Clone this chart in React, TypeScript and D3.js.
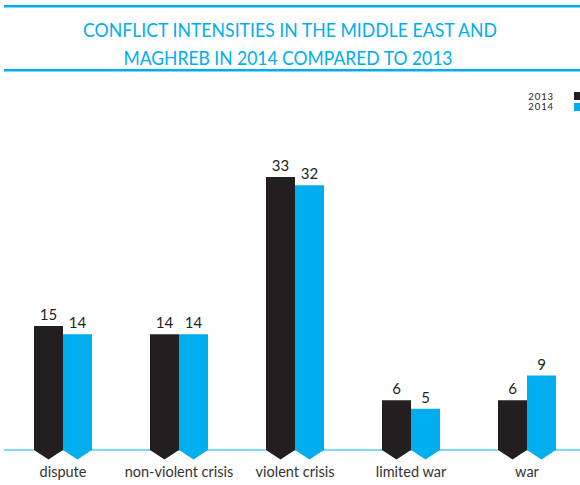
import React from "react";
import * as d3 from "d3";

const categories = ["dispute", "non-violent crisis", "violent crisis", "limited war", "war"];
const values2013 = [15, 14, 33, 6, 6];
const values2014 = [14, 14, 32, 5, 9];
const seriesNames = ["2013", "2014"];
const seriesColors = ["#231f20", "#00aeef"];
const titleLines = ["CONFLICT INTENSITIES IN THE MIDDLE EAST AND", "MAGHREB IN 2014 COMPARED TO 2013"];

const W = 580;
const H = 485;
const BASE = 450;
const FONT = "Lato, 'Open Sans', sans-serif";

export default function App() {
  const x0 = d3.scaleBand<string>().domain(categories).range([5, 585]).paddingInner(0.5).paddingOuter(0.25);
  const x1 = d3.scaleBand<string>().domain(seriesNames).range([0, x0.bandwidth()]);
  const y = d3.scaleLinear().domain([0, 33]).range([BASE, 177]);
  const series = [values2013, values2014];

  return (
    <svg width={W} height={H} style={{ position: "absolute", left: 0, top: 0, background: "#fff" }} fontFamily={FONT}>
      <rect x={4} y={5} width={W - 4} height={2.5} fill="#00aeef" />
      <rect x={4} y={69} width={W - 4} height={2.5} fill="#00aeef" />
      <text x={290} y={37} textAnchor="middle" fontSize={20} fill="#00aeef" textLength={414} lengthAdjust="spacingAndGlyphs">
        {titleLines[0]}
      </text>
      <text x={288} y={65} textAnchor="middle" fontSize={20} fill="#00aeef" textLength={329} lengthAdjust="spacingAndGlyphs">
        {titleLines[1]}
      </text>

      {seriesNames.map((s, i) => (
        <g key={s}>
          <text x={554} y={99.5 + i * 10.5} textAnchor="end" fontSize={9.5} letterSpacing={0.9} fill="#231f20">{s}</text>
          <rect x={574} y={92 + i * 11} width={7} height={8} fill={seriesColors[i]} />
        </g>
      ))}

      <line x1={4} x2={W} y1={BASE} y2={BASE} stroke="#00aeef" strokeWidth={1} />

      {categories.map((c, ci) => (
        <g key={c}>
          {seriesNames.map((s, si) => {
            const v = series[si][ci];
            const xa = (x0(c) ?? 0) + (x1(s) ?? 0);
            const xb = xa + x1.bandwidth();
            const xc = (xa + xb) / 2;
            const yt = y(v);
            const path = `M${xa},${yt}L${xb},${yt}L${xb},${BASE}L${xc},${BASE + 9.5}L${xa},${BASE}Z`;
            return (
              <g key={s}>
                <path d={path} fill={seriesColors[si]} />
                <text x={xc} y={yt - 6} textAnchor="middle" fontSize={15} fill="#231f20">{v}</text>
              </g>
            );
          })}
          <text x={(x0(c) ?? 0) + x0.bandwidth() / 2} y={477} textAnchor="middle" fontSize={14.5} fill="#333">{c}</text>
        </g>
      ))}
    </svg>
  );
}
